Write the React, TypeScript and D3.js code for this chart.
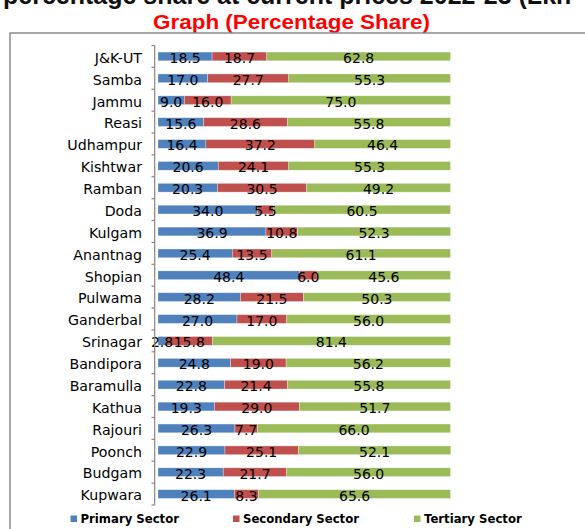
import React from "react";
import * as d3 from "d3";

const categories = ["J&K-UT","Samba","Jammu","Reasi","Udhampur","Kishtwar","Ramban","Doda","Kulgam","Anantnag","Shopian","Pulwama","Ganderbal","Srinagar","Bandipora","Baramulla","Kathua","Rajouri","Poonch","Budgam","Kupwara"];
const primary = [18.5,17.0,9.0,15.6,16.4,20.6,20.3,34.0,36.9,25.4,48.4,28.2,27.0,2.8,24.8,22.8,19.3,26.3,22.9,22.3,26.1];
const secondary = [18.7,27.7,16.0,28.6,37.2,24.1,30.5,5.5,10.8,13.5,6.0,21.5,17.0,15.8,19.0,21.4,29.0,7.7,25.1,21.7,8.3];
const tertiary = [62.8,55.3,75.0,55.8,46.4,55.3,49.2,60.5,52.3,61.1,45.6,50.3,56.0,81.4,56.2,55.8,51.7,66.0,52.1,56.0,65.6];
const seriesNames = ["Primary Sector","Secondary Sector","Tertiary Sector"];
const colors = ["#4F81BD","#C0504D","#9BBB59"];

export default function App() {
  const W = 585, H = 529;
  const x = d3.scaleLinear().domain([0, 100]).range([158, 450.5]);
  const y = d3.scaleBand<string>().domain(categories).range([45.5, 505]).paddingInner(0.6).paddingOuter(0.3);
  const table = categories.map((c, i) => ({ cat: c, p: primary[i], s: secondary[i], t: tertiary[i] }));
  const stack = d3.stack<any>().keys(["p", "s", "t"])(table);
  const ticks = d3.range(categories.length + 1).map(i => 45.5 + i * y.step());
  const font = "'DejaVu Sans', Verdana, sans-serif";
  const legendX = [70.5, 233, 414];
  const cy = (c: string) => y(c)! + y.bandwidth() / 2;
  return (
    <svg width={W} height={H} style={{ position: "absolute", left: 0, top: 0, background: "#fff" }}>
      <text x={3} y={4} fontFamily="'Liberation Sans', Arial, sans-serif" fontWeight="bold" fontSize={25} fill="#111">percentage share at current prices 2022-23 (Lkh</text>
      <text x={153} y={29} textLength={277} lengthAdjust="spacingAndGlyphs" fontFamily="'Liberation Sans', Arial, sans-serif" fontWeight="bold" fontSize={19.5} fill="#FF0000">Graph (Percentage Share)</text>
      <rect x={10} y={33} width={600} height={520} fill="none" stroke="#8c8c8c" strokeWidth={1.5} />
      {stack.map((layer, li) => (
        <g key={li}>
          {layer.map((d, i) => (
            <rect key={i} x={x(d[0])} y={y(categories[i])!} width={x(d[1]) - x(d[0])} height={y.bandwidth()} fill={colors[li]} stroke="#ffffff" strokeOpacity={0.5} strokeWidth={0.6} />
          ))}
        </g>
      ))}
      {stack.map((layer, li) => (
        <g key={"l" + li}>
          {layer.map((d, i) => (
            <text key={i} x={(x(d[0]) + x(d[1])) / 2} y={cy(categories[i]) + 6.5} textAnchor="middle" fontFamily={font} fontSize={14} fill="#000">
              {(d[1] - d[0]).toFixed(1)}
            </text>
          ))}
        </g>
      ))}
      <line x1={154.7} x2={154.7} y1={45.5} y2={505} stroke="#868686" strokeWidth={1.2} />
      {ticks.map((t, i) => (
        <line key={i} x1={151.5} x2={154.7} y1={t} y2={t} stroke="#868686" strokeWidth={1.2} />
      ))}
      {categories.map((c) => (
        <text key={c} x={142} y={cy(c) + 6.3} textAnchor="end" fontFamily={font} fontSize={14.2} fill="#000">{c}</text>
      ))}
      {seriesNames.map((n, i) => (
        <g key={n}>
          <rect x={legendX[i]} y={515.5} width={6.5} height={6.5} fill={colors[i]} />
          <text x={legendX[i] + 10} y={523} fontFamily={font} fontWeight="bold" fontSize={11.7} fill="#000">{n}</text>
        </g>
      ))}
    </svg>
  );
}
